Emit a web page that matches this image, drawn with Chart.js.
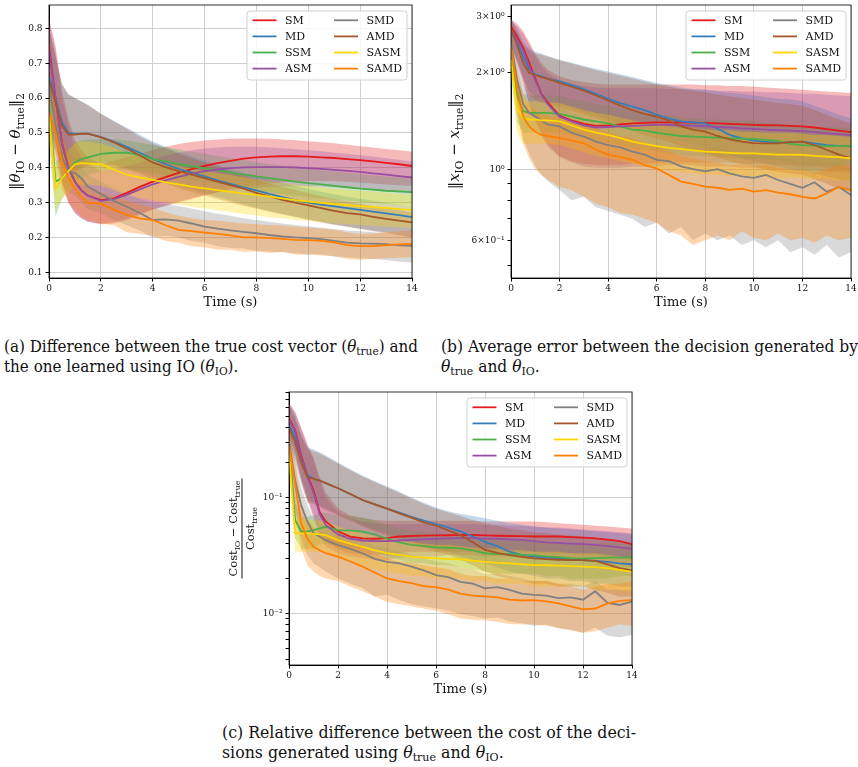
<!DOCTYPE html>
<html>
<head>
<meta charset="utf-8">
<script src="https://cdn.jsdelivr.net/npm/chart.js@4.4.1/dist/chart.umd.min.js"></script>
<style>
  body { margin: 0; background: #fff; width: 858px; height: 767px; position: relative; overflow: hidden; }
  canvas { position: absolute; }
  .cap { position: absolute; font-family: 'DejaVu Serif', serif; font-size: 16.5px; line-height: 20px;
         white-space: nowrap; transform-origin: 0 0; color: #111; }
  .cap div { width: max-content; }
  .cap sub { font-size: 70%; vertical-align: -0.3em; line-height: 0; }
</style>
</head>
<body>
<canvas id="chartA" width="425" height="315" style="left:0;top:0"></canvas>
<canvas id="chartB" width="428" height="315" style="left:430px;top:0"></canvas>
<canvas id="chartC" width="440" height="320" style="left:200px;top:380px"></canvas>

<div class="cap" style="left:4px;top:337px" data-w="414">
  <div><span>(a) Difference between the true cost vector (<i>θ</i><sub>true</sub>) and</span></div>
  <div>the one learned using IO (<i>θ</i><sub>IO</sub>).</div>
</div>
<div class="cap" style="left:441px;top:337px" data-w="417">
  <div><span>(b) Average error between the decision generated by</span></div>
  <div><i>θ</i><sub>true</sub> and <i>θ</i><sub>IO</sub>.</div>
</div>
<div class="cap" style="left:222px;top:723px" data-w="414">
  <div><span>(c) Relative difference between the cost of the deci-</span></div>
  <div>sions generated using <i>θ</i><sub>true</sub> and <i>θ</i><sub>IO</sub>.</div>
</div>

<script>
// time axis (s), shared by every series
const TIME = [0, 0.25, 0.5, 0.75, 1, 1.25, 1.5,
  2, 2.5, 3, 3.5, 4, 4.5, 5, 5.5, 6, 6.5, 7, 7.5, 8, 8.5, 9, 9.5, 10, 10.5, 11, 11.5, 12, 12.5, 13, 13.5, 14];
const SERIES = ['SM', 'MD', 'SSM', 'ASM', 'SMD', 'AMD', 'SASM', 'SAMD'];
const X_TICKS = [0, 2, 4, 6, 8, 10, 12, 14];

// (a) ||theta_IO - theta_true||_2 : mean, lower, upper
const aSM   = [0.75, 0.6, 0.47, 0.4, 0.36, 0.335, 0.32, 0.307, 0.312, 0.328, 0.345, 0.36, 0.373, 0.385, 0.396, 0.405, 0.413, 0.42, 0.426, 0.43, 0.432, 0.433, 0.433, 0.432, 0.43, 0.428, 0.425, 0.422, 0.418, 0.414, 0.41, 0.405];
const aSMHi = [0.83, 0.75, 0.62, 0.54, 0.48, 0.45, 0.43, 0.41, 0.42, 0.43, 0.44, 0.45, 0.46, 0.468, 0.474, 0.478, 0.481, 0.483, 0.484, 0.484, 0.483, 0.481, 0.479, 0.476, 0.473, 0.47, 0.466, 0.462, 0.458, 0.454, 0.45, 0.446];
const aSMLo = [0.66, 0.5, 0.36, 0.3, 0.27, 0.255, 0.245, 0.238, 0.24, 0.25, 0.265, 0.28, 0.29, 0.3, 0.31, 0.32, 0.33, 0.34, 0.345, 0.35, 0.355, 0.358, 0.36, 0.362, 0.362, 0.362, 0.36, 0.358, 0.355, 0.352, 0.35, 0.348];
const aASM   = [0.74, 0.6, 0.47, 0.4, 0.36, 0.335, 0.32, 0.305, 0.31, 0.322, 0.338, 0.352, 0.364, 0.374, 0.383, 0.39, 0.395, 0.399, 0.401, 0.402, 0.402, 0.402, 0.401, 0.399, 0.397, 0.394, 0.391, 0.388, 0.384, 0.38, 0.376, 0.372];
const aASMHi = [0.82, 0.74, 0.6, 0.52, 0.46, 0.43, 0.41, 0.39, 0.395, 0.405, 0.415, 0.425, 0.435, 0.443, 0.45, 0.455, 0.458, 0.46, 0.46, 0.46, 0.458, 0.456, 0.453, 0.45, 0.447, 0.443, 0.44, 0.436, 0.432, 0.427, 0.423, 0.418];
const aASMLo = [0.66, 0.48, 0.36, 0.3, 0.27, 0.255, 0.245, 0.24, 0.245, 0.255, 0.268, 0.28, 0.292, 0.303, 0.313, 0.322, 0.33, 0.336, 0.34, 0.343, 0.345, 0.346, 0.347, 0.347, 0.346, 0.344, 0.342, 0.339, 0.336, 0.332, 0.329, 0.326];
const aMD   = [0.66, 0.6, 0.53, 0.5, 0.497, 0.498, 0.498, 0.488, 0.475, 0.46, 0.443, 0.425, 0.41, 0.397, 0.386, 0.375, 0.364, 0.354, 0.344, 0.335, 0.325, 0.316, 0.307, 0.3, 0.294, 0.289, 0.284, 0.279, 0.274, 0.269, 0.264, 0.258];
const aMDHi = [0.8, 0.72, 0.64, 0.61, 0.6, 0.59, 0.58, 0.555, 0.535, 0.515, 0.495, 0.475, 0.46, 0.445, 0.432, 0.42, 0.408, 0.396, 0.385, 0.375, 0.365, 0.356, 0.347, 0.339, 0.331, 0.324, 0.317, 0.311, 0.305, 0.299, 0.294, 0.289];
const aMDLo = [0.52, 0.47, 0.42, 0.4, 0.4, 0.405, 0.41, 0.415, 0.41, 0.4, 0.388, 0.375, 0.362, 0.35, 0.338, 0.327, 0.316, 0.305, 0.295, 0.285, 0.276, 0.268, 0.26, 0.252, 0.245, 0.238, 0.232, 0.226, 0.22, 0.215, 0.21, 0.205];
const aAMD   = [0.65, 0.59, 0.52, 0.495, 0.495, 0.497, 0.498, 0.488, 0.473, 0.455, 0.435, 0.415, 0.402, 0.39, 0.38, 0.37, 0.36, 0.35, 0.34, 0.328, 0.318, 0.308, 0.3, 0.292, 0.284, 0.276, 0.27, 0.266, 0.259, 0.253, 0.248, 0.243];
const aAMDHi = [0.8, 0.72, 0.64, 0.61, 0.6, 0.59, 0.58, 0.555, 0.533, 0.512, 0.49, 0.47, 0.455, 0.44, 0.427, 0.415, 0.402, 0.39, 0.378, 0.366, 0.355, 0.345, 0.336, 0.327, 0.318, 0.31, 0.303, 0.297, 0.29, 0.284, 0.278, 0.272];
const aAMDLo = [0.5, 0.45, 0.4, 0.39, 0.39, 0.398, 0.405, 0.41, 0.405, 0.395, 0.382, 0.368, 0.355, 0.342, 0.33, 0.32, 0.31, 0.3, 0.29, 0.282, 0.274, 0.266, 0.258, 0.25, 0.243, 0.236, 0.23, 0.224, 0.218, 0.212, 0.206, 0.2];
const aSSM   = [0.58, 0.36, 0.37, 0.39, 0.415, 0.425, 0.43, 0.44, 0.443, 0.443, 0.437, 0.425, 0.418, 0.41, 0.405, 0.398, 0.393, 0.387, 0.381, 0.375, 0.37, 0.365, 0.36, 0.356, 0.352, 0.348, 0.344, 0.34, 0.337, 0.334, 0.332, 0.33];
const aSSMHi = [0.66, 0.42, 0.43, 0.45, 0.47, 0.478, 0.48, 0.482, 0.482, 0.478, 0.472, 0.465, 0.458, 0.452, 0.446, 0.44, 0.434, 0.428, 0.422, 0.416, 0.411, 0.406, 0.401, 0.397, 0.393, 0.389, 0.385, 0.381, 0.378, 0.375, 0.372, 0.369];
const aSSMLo = [0.48, 0.26, 0.31, 0.34, 0.36, 0.372, 0.38, 0.39, 0.395, 0.395, 0.392, 0.386, 0.38, 0.372, 0.365, 0.36, 0.355, 0.348, 0.342, 0.336, 0.33, 0.325, 0.32, 0.316, 0.312, 0.308, 0.305, 0.302, 0.299, 0.296, 0.293, 0.29];
const aSASM   = [0.555, 0.34, 0.37, 0.39, 0.41, 0.413, 0.412, 0.41, 0.395, 0.38, 0.372, 0.365, 0.358, 0.352, 0.346, 0.341, 0.336, 0.331, 0.326, 0.322, 0.317, 0.312, 0.307, 0.303, 0.299, 0.296, 0.293, 0.29, 0.287, 0.284, 0.281, 0.279];
const aSASMHi = [0.62, 0.4, 0.43, 0.45, 0.47, 0.475, 0.475, 0.47, 0.458, 0.443, 0.432, 0.422, 0.412, 0.404, 0.397, 0.391, 0.385, 0.379, 0.373, 0.367, 0.362, 0.357, 0.352, 0.348, 0.344, 0.34, 0.337, 0.334, 0.331, 0.328, 0.325, 0.322];
const aSASMLo = [0.48, 0.28, 0.31, 0.33, 0.35, 0.352, 0.352, 0.348, 0.335, 0.322, 0.313, 0.306, 0.3, 0.294, 0.288, 0.283, 0.278, 0.273, 0.268, 0.263, 0.258, 0.254, 0.25, 0.247, 0.244, 0.241, 0.238, 0.235, 0.233, 0.231, 0.229, 0.227];
const aSMD   = [0.64, 0.52, 0.43, 0.39, 0.385, 0.37, 0.345, 0.325, 0.305, 0.288, 0.27, 0.25, 0.252, 0.248, 0.24, 0.231, 0.225, 0.22, 0.216, 0.212, 0.207, 0.203, 0.2, 0.198, 0.195, 0.19, 0.185, 0.183, 0.182, 0.181, 0.177, 0.176];
const aSMDHi = [0.7, 0.6, 0.5, 0.45, 0.42, 0.4, 0.38, 0.36, 0.34, 0.325, 0.31, 0.3, 0.295, 0.29, 0.283, 0.275, 0.268, 0.262, 0.255, 0.25, 0.245, 0.24, 0.236, 0.232, 0.228, 0.224, 0.22, 0.218, 0.215, 0.212, 0.21, 0.207];
const aSMDLo = [0.55, 0.44, 0.36, 0.33, 0.32, 0.3, 0.28, 0.27, 0.25, 0.235, 0.22, 0.2, 0.205, 0.2, 0.19, 0.185, 0.175, 0.17, 0.168, 0.162, 0.16, 0.158, 0.155, 0.15, 0.152, 0.145, 0.143, 0.14, 0.138, 0.135, 0.13, 0.128];
const aSAMD   = [0.56, 0.5, 0.42, 0.37, 0.34, 0.315, 0.3, 0.296, 0.28, 0.265, 0.255, 0.25, 0.235, 0.222, 0.218, 0.214, 0.21, 0.206, 0.2, 0.2, 0.198, 0.196, 0.193, 0.192, 0.19, 0.186, 0.178, 0.175, 0.175, 0.178, 0.18, 0.181];
const aSAMDHi = [0.64, 0.58, 0.5, 0.44, 0.4, 0.37, 0.35, 0.33, 0.318, 0.305, 0.295, 0.285, 0.272, 0.262, 0.255, 0.25, 0.248, 0.244, 0.24, 0.238, 0.236, 0.234, 0.231, 0.228, 0.226, 0.222, 0.215, 0.21, 0.212, 0.215, 0.218, 0.22];
const aSAMDLo = [0.48, 0.42, 0.34, 0.3, 0.28, 0.26, 0.25, 0.24, 0.235, 0.215, 0.21, 0.205, 0.19, 0.185, 0.175, 0.172, 0.165, 0.165, 0.158, 0.16, 0.155, 0.158, 0.15, 0.152, 0.148, 0.146, 0.138, 0.135, 0.138, 0.14, 0.142, 0.143];
const A_Y_TICKS = [0.1, 0.2, 0.3, 0.4, 0.5, 0.6, 0.7, 0.8];

// (b) ||x_IO - x_true||_2 (log axis)
const bSM   = [2.8, 2.6, 2.4, 2.15, 1.92, 1.72, 1.62, 1.47, 1.42, 1.385, 1.365, 1.37, 1.38, 1.39, 1.395, 1.4, 1.4, 1.4, 1.398, 1.395, 1.39, 1.385, 1.38, 1.375, 1.372, 1.37, 1.365, 1.36, 1.35, 1.335, 1.32, 1.305];
const bSMHi = [2.95, 2.85, 2.7, 2.5, 2.3, 2.15, 2.05, 1.95, 1.9, 1.87, 1.85, 1.84, 1.84, 1.84, 1.84, 1.84, 1.84, 1.84, 1.84, 1.83, 1.83, 1.82, 1.82, 1.81, 1.8, 1.79, 1.78, 1.77, 1.76, 1.75, 1.74, 1.73];
const bSMLo = [2.5, 2.2, 1.9, 1.6, 1.45, 1.3, 1.2, 1.1, 1.06, 1.04, 1.03, 1.03, 1.03, 1.04, 1.04, 1.05, 1.05, 1.05, 1.05, 1.05, 1.05, 1.05, 1.04, 1.04, 1.04, 1.03, 1.03, 1.02, 1.02, 1.01, 1.0, 1.0];
const bASM   = [2.75, 2.55, 2.35, 2.1, 1.9, 1.72, 1.6, 1.46, 1.41, 1.37, 1.35, 1.355, 1.36, 1.365, 1.37, 1.375, 1.375, 1.372, 1.368, 1.362, 1.355, 1.35, 1.342, 1.336, 1.33, 1.325, 1.32, 1.315, 1.305, 1.295, 1.287, 1.278];
const bASMHi = [2.9, 2.8, 2.65, 2.45, 2.25, 2.1, 2.0, 1.9, 1.85, 1.82, 1.8, 1.79, 1.79, 1.79, 1.79, 1.79, 1.78, 1.78, 1.77, 1.77, 1.76, 1.76, 1.75, 1.75, 1.74, 1.74, 1.73, 1.72, 1.72, 1.71, 1.7, 1.69];
const bASMLo = [2.45, 2.15, 1.85, 1.58, 1.42, 1.28, 1.18, 1.09, 1.05, 1.02, 1.01, 1.01, 1.01, 1.02, 1.02, 1.02, 1.03, 1.03, 1.03, 1.02, 1.02, 1.02, 1.01, 1.01, 1.0, 1.0, 1.0, 0.99, 0.99, 0.98, 0.98, 0.97];
const bMD   = [2.7, 2.5, 2.25, 2.05, 1.98, 1.95, 1.92, 1.88, 1.83, 1.78, 1.72, 1.66, 1.61, 1.57, 1.53, 1.48, 1.44, 1.41, 1.4, 1.39, 1.34, 1.28, 1.25, 1.228, 1.218, 1.21, 1.215, 1.22, 1.205, 1.19, 1.183, 1.178];
const bMDHi = [2.95, 2.75, 2.5, 2.38, 2.33, 2.3, 2.26, 2.2, 2.15, 2.1, 2.06, 2.02, 1.98, 1.94, 1.9, 1.86, 1.83, 1.8, 1.78, 1.77, 1.75, 1.73, 1.72, 1.7, 1.68, 1.66, 1.65, 1.63, 1.58, 1.53, 1.48, 1.44];
const bMDLo = [2.45, 2.2, 1.95, 1.75, 1.68, 1.65, 1.62, 1.58, 1.55, 1.51, 1.47, 1.43, 1.39, 1.35, 1.31, 1.28, 1.25, 1.22, 1.19, 1.17, 1.14, 1.11, 1.08, 1.06, 1.04, 1.02, 1.0, 0.99, 0.97, 0.95, 0.93, 0.92];
const bAMD   = [2.75, 2.45, 2.15, 2.0, 1.97, 1.94, 1.92, 1.86, 1.81, 1.76, 1.7, 1.64, 1.58, 1.53, 1.49, 1.46, 1.42, 1.36, 1.33, 1.31, 1.27, 1.24, 1.22, 1.207, 1.205, 1.205, 1.215, 1.22, 1.19, 1.15, 1.11, 1.08];
const bAMDHi = [2.95, 2.7, 2.45, 2.35, 2.3, 2.28, 2.25, 2.19, 2.14, 2.09, 2.04, 2.0, 1.96, 1.92, 1.88, 1.84, 1.81, 1.78, 1.76, 1.74, 1.71, 1.69, 1.67, 1.65, 1.63, 1.61, 1.6, 1.58, 1.53, 1.48, 1.43, 1.39];
const bAMDLo = [2.45, 2.15, 1.9, 1.7, 1.65, 1.62, 1.6, 1.56, 1.52, 1.48, 1.44, 1.4, 1.36, 1.32, 1.28, 1.25, 1.22, 1.18, 1.15, 1.12, 1.09, 1.06, 1.04, 1.02, 1.0, 0.98, 0.97, 0.96, 0.93, 0.9, 0.87, 0.85];
const bSSM   = [2.3, 1.7, 1.52, 1.5, 1.5, 1.5, 1.5, 1.49, 1.46, 1.43, 1.41, 1.39, 1.36, 1.33, 1.32, 1.3, 1.285, 1.27, 1.265, 1.26, 1.255, 1.25, 1.245, 1.243, 1.235, 1.225, 1.2, 1.19, 1.185, 1.18, 1.18, 1.18];
const bSSMHi = [2.5, 1.95, 1.72, 1.7, 1.7, 1.7, 1.7, 1.69, 1.66, 1.63, 1.6, 1.58, 1.55, 1.52, 1.5, 1.48, 1.47, 1.45, 1.44, 1.43, 1.43, 1.42, 1.42, 1.41, 1.4, 1.39, 1.37, 1.36, 1.35, 1.35, 1.35, 1.34];
const bSSMLo = [2.0, 1.4, 1.3, 1.3, 1.31, 1.31, 1.31, 1.3, 1.28, 1.25, 1.23, 1.21, 1.19, 1.16, 1.15, 1.14, 1.12, 1.11, 1.1, 1.1, 1.09, 1.09, 1.08, 1.08, 1.07, 1.07, 1.05, 1.04, 1.03, 1.03, 1.03, 1.03];
const bSASM   = [2.2, 1.55, 1.44, 1.43, 1.43, 1.42, 1.42, 1.41, 1.37, 1.33, 1.3, 1.28, 1.25, 1.22, 1.2, 1.18, 1.165, 1.155, 1.145, 1.135, 1.13, 1.125, 1.12, 1.12, 1.115, 1.11, 1.11, 1.108, 1.1, 1.095, 1.09, 1.08];
const bSASMHi = [2.4, 1.8, 1.65, 1.63, 1.63, 1.62, 1.62, 1.61, 1.57, 1.53, 1.5, 1.48, 1.45, 1.42, 1.4, 1.38, 1.36, 1.35, 1.34, 1.33, 1.32, 1.32, 1.31, 1.31, 1.3, 1.3, 1.3, 1.29, 1.28, 1.28, 1.27, 1.26];
const bSASMLo = [1.95, 1.3, 1.2, 1.2, 1.2, 1.2, 1.2, 1.19, 1.16, 1.13, 1.1, 1.08, 1.06, 1.04, 1.02, 1.0, 0.99, 0.98, 0.97, 0.96, 0.96, 0.95, 0.95, 0.95, 0.94, 0.94, 0.94, 0.94, 0.93, 0.93, 0.92, 0.92];
const bSMD   = [2.5, 1.9, 1.6, 1.5, 1.46, 1.42, 1.38, 1.36, 1.3, 1.265, 1.22, 1.19, 1.17, 1.135, 1.11, 1.07, 1.06, 1.02, 1.0, 0.985, 1.0, 0.97, 0.95, 0.94, 0.96, 0.925, 0.9, 0.875, 0.91, 0.85, 0.88, 0.83];
const bSMDHi = [2.75, 2.2, 1.85, 1.72, 1.67, 1.63, 1.6, 1.57, 1.5, 1.46, 1.42, 1.38, 1.36, 1.32, 1.3, 1.26, 1.24, 1.2, 1.18, 1.16, 1.17, 1.14, 1.12, 1.11, 1.12, 1.09, 1.07, 1.05, 1.07, 1.03, 1.05, 1.0];
const bSMDLo = [2.2, 1.55, 1.25, 1.12, 1.02, 0.96, 0.92, 0.86, 0.8, 0.82, 0.76, 0.74, 0.72, 0.7, 0.66, 0.68, 0.63, 0.66, 0.6, 0.63, 0.6, 0.62, 0.58, 0.6, 0.57, 0.6, 0.55, 0.57, 0.54, 0.58, 0.53, 0.55];
const bSAMD   = [2.4, 1.8, 1.46, 1.36, 1.31, 1.28, 1.27, 1.25, 1.23, 1.205, 1.15, 1.11, 1.09, 1.07, 1.03, 1.005, 0.96, 0.915, 0.9, 0.882, 0.875, 0.862, 0.87, 0.851, 0.86, 0.845, 0.835, 0.82, 0.81, 0.84, 0.88, 0.86];
const bSAMDHi = [2.7, 2.1, 1.72, 1.6, 1.53, 1.49, 1.47, 1.45, 1.42, 1.39, 1.34, 1.3, 1.27, 1.25, 1.21, 1.18, 1.14, 1.1, 1.08, 1.06, 1.05, 1.03, 1.04, 1.02, 1.03, 1.01, 1.0, 0.99, 0.98, 1.0, 1.03, 1.02];
const bSAMDLo = [2.1, 1.5, 1.2, 1.08, 1.0, 0.96, 0.93, 0.88, 0.86, 0.82, 0.78, 0.76, 0.73, 0.72, 0.7, 0.68, 0.64, 0.62, 0.58, 0.6, 0.62, 0.6, 0.64, 0.61, 0.6, 0.63, 0.6, 0.61, 0.59, 0.62, 0.6, 0.61];
const B_Y_TICKS = [0.5, 0.6, 0.7, 0.8, 0.9, 1, 2, 3];
const B_Y_LABELS = { 0.6: '6×10⁻¹', 1: '10⁰', 2: '2×10⁰', 3: '3×10⁰' };
const B_Y_GRID = [1];

// (c) relative cost difference (log axis)
const cSM   = [0.48, 0.38, 0.23, 0.155, 0.115, 0.075, 0.062, 0.051, 0.046, 0.0443, 0.044, 0.0445, 0.046, 0.0465, 0.0468, 0.047, 0.0472, 0.0475, 0.0474, 0.047, 0.0467, 0.0465, 0.0463, 0.046, 0.046, 0.046, 0.0455, 0.045, 0.0443, 0.0432, 0.042, 0.0395];
const cSMHi = [0.65, 0.55, 0.4, 0.29, 0.22, 0.15, 0.11, 0.08, 0.07, 0.066, 0.064, 0.063, 0.063, 0.063, 0.063, 0.063, 0.063, 0.063, 0.063, 0.062, 0.062, 0.062, 0.062, 0.062, 0.061, 0.06, 0.059, 0.058, 0.057, 0.056, 0.055, 0.054];
const cSMLo = [0.35, 0.25, 0.15, 0.1, 0.07, 0.05, 0.042, 0.036, 0.033, 0.032, 0.032, 0.032, 0.033, 0.034, 0.034, 0.034, 0.034, 0.034, 0.034, 0.034, 0.034, 0.034, 0.034, 0.034, 0.033, 0.033, 0.033, 0.032, 0.032, 0.031, 0.03, 0.029];
const cASM   = [0.47, 0.37, 0.22, 0.15, 0.11, 0.072, 0.058, 0.048, 0.044, 0.0425, 0.042, 0.042, 0.0425, 0.043, 0.0435, 0.044, 0.0443, 0.0445, 0.0445, 0.0442, 0.044, 0.0435, 0.043, 0.042, 0.041, 0.0405, 0.04, 0.0395, 0.039, 0.038, 0.037, 0.036];
const cASMHi = [0.64, 0.54, 0.39, 0.28, 0.21, 0.14, 0.1, 0.075, 0.066, 0.062, 0.06, 0.059, 0.059, 0.059, 0.059, 0.059, 0.059, 0.059, 0.059, 0.058, 0.058, 0.057, 0.057, 0.056, 0.055, 0.055, 0.054, 0.053, 0.052, 0.051, 0.05, 0.049];
const cASMLo = [0.34, 0.24, 0.14, 0.095, 0.066, 0.046, 0.038, 0.033, 0.031, 0.03, 0.029, 0.029, 0.03, 0.031, 0.031, 0.031, 0.032, 0.032, 0.032, 0.031, 0.031, 0.031, 0.031, 0.03, 0.03, 0.029, 0.029, 0.028, 0.028, 0.027, 0.026, 0.025];
const cMD   = [0.42, 0.33, 0.22, 0.155, 0.145, 0.14, 0.133, 0.12, 0.107, 0.095, 0.087, 0.08, 0.074, 0.068, 0.063, 0.059, 0.055, 0.051, 0.046, 0.0414, 0.038, 0.034, 0.032, 0.0308, 0.0302, 0.0298, 0.0293, 0.0288, 0.0283, 0.0278, 0.027, 0.0265];
const cMDHi = [0.65, 0.5, 0.35, 0.27, 0.26, 0.245, 0.23, 0.2, 0.175, 0.155, 0.138, 0.125, 0.112, 0.1, 0.09, 0.082, 0.076, 0.072, 0.069, 0.066, 0.063, 0.06, 0.058, 0.056, 0.055, 0.054, 0.053, 0.052, 0.051, 0.05, 0.049, 0.048];
const cMDLo = [0.3, 0.22, 0.14, 0.095, 0.09, 0.085, 0.08, 0.072, 0.065, 0.058, 0.053, 0.049, 0.045, 0.042, 0.039, 0.036, 0.034, 0.031, 0.029, 0.027, 0.025, 0.023, 0.022, 0.021, 0.02, 0.02, 0.019, 0.019, 0.018, 0.018, 0.017, 0.017];
const cAMD   = [0.4, 0.3, 0.2, 0.15, 0.145, 0.14, 0.133, 0.12, 0.107, 0.095, 0.087, 0.08, 0.073, 0.067, 0.061, 0.057, 0.052, 0.0473, 0.041, 0.0352, 0.0332, 0.0318, 0.0307, 0.0298, 0.0293, 0.029, 0.0288, 0.0288, 0.0283, 0.0265, 0.0245, 0.0235];
const cAMDHi = [0.63, 0.48, 0.34, 0.26, 0.25, 0.24, 0.225, 0.196, 0.172, 0.152, 0.136, 0.122, 0.11, 0.098, 0.088, 0.08, 0.074, 0.069, 0.064, 0.06, 0.057, 0.054, 0.052, 0.05, 0.049, 0.048, 0.047, 0.046, 0.045, 0.043, 0.041, 0.04];
const cAMDLo = [0.28, 0.2, 0.13, 0.09, 0.088, 0.083, 0.078, 0.07, 0.063, 0.056, 0.051, 0.047, 0.043, 0.04, 0.037, 0.034, 0.032, 0.029, 0.026, 0.023, 0.021, 0.02, 0.019, 0.018, 0.018, 0.017, 0.017, 0.017, 0.016, 0.015, 0.014, 0.014];
const cSSM   = [0.3, 0.064, 0.0506, 0.051, 0.0523, 0.054, 0.0558, 0.0523, 0.052, 0.0506, 0.048, 0.044, 0.041, 0.039, 0.038, 0.037, 0.0368, 0.0364, 0.035, 0.033, 0.0325, 0.0325, 0.032, 0.0318, 0.031, 0.0305, 0.03, 0.0298, 0.03, 0.0302, 0.0303, 0.0304];
const cSSMHi = [0.4, 0.09, 0.068, 0.068, 0.07, 0.072, 0.074, 0.07, 0.069, 0.067, 0.063, 0.058, 0.054, 0.051, 0.05, 0.049, 0.048, 0.047, 0.046, 0.044, 0.043, 0.043, 0.042, 0.042, 0.041, 0.04, 0.04, 0.039, 0.04, 0.04, 0.04, 0.04];
const cSSMLo = [0.2, 0.045, 0.036, 0.036, 0.037, 0.039, 0.04, 0.037, 0.037, 0.036, 0.034, 0.031, 0.029, 0.027, 0.027, 0.026, 0.026, 0.025, 0.024, 0.023, 0.022, 0.022, 0.022, 0.022, 0.021, 0.021, 0.02, 0.02, 0.02, 0.02, 0.021, 0.021];
const cSASM   = [0.25, 0.049, 0.049, 0.049, 0.0485, 0.048, 0.0473, 0.0428, 0.04, 0.0375, 0.035, 0.033, 0.032, 0.0308, 0.0302, 0.0298, 0.0295, 0.0292, 0.0285, 0.0278, 0.0273, 0.027, 0.0265, 0.0261, 0.026, 0.0258, 0.0255, 0.0253, 0.025, 0.0245, 0.0237, 0.0228];
const cSASMHi = [0.35, 0.065, 0.065, 0.065, 0.064, 0.063, 0.062, 0.056, 0.052, 0.049, 0.046, 0.044, 0.042, 0.041, 0.04, 0.039, 0.039, 0.038, 0.037, 0.036, 0.036, 0.035, 0.035, 0.034, 0.034, 0.034, 0.033, 0.033, 0.033, 0.032, 0.031, 0.03];
const cSASMLo = [0.16, 0.034, 0.034, 0.034, 0.034, 0.034, 0.033, 0.03, 0.028, 0.026, 0.024, 0.023, 0.022, 0.021, 0.021, 0.02, 0.02, 0.02, 0.019, 0.019, 0.018, 0.018, 0.018, 0.017, 0.017, 0.017, 0.017, 0.017, 0.016, 0.016, 0.016, 0.015];
const cSMD   = [0.3, 0.14, 0.085, 0.062, 0.049, 0.046, 0.0428, 0.0388, 0.036, 0.033, 0.0295, 0.0278, 0.027, 0.0253, 0.0235, 0.0214, 0.0205, 0.0187, 0.018, 0.0164, 0.0168, 0.0159, 0.0148, 0.0144, 0.0142, 0.0135, 0.0137, 0.0131, 0.0155, 0.0123, 0.0118, 0.0126];
const cSMDHi = [0.42, 0.2, 0.12, 0.085, 0.066, 0.06, 0.056, 0.05, 0.046, 0.042, 0.038, 0.036, 0.034, 0.032, 0.03, 0.028, 0.027, 0.025, 0.024, 0.022, 0.022, 0.021, 0.02, 0.019, 0.019, 0.018, 0.018, 0.017, 0.019, 0.016, 0.016, 0.016];
const cSMDLo = [0.2, 0.08, 0.045, 0.032, 0.027, 0.025, 0.023, 0.02, 0.018, 0.0165, 0.014, 0.0145, 0.013, 0.012, 0.0115, 0.011, 0.0105, 0.0098, 0.0095, 0.009, 0.0092, 0.0085, 0.0082, 0.0078, 0.008, 0.0074, 0.0072, 0.0068, 0.0075, 0.0064, 0.0062, 0.0065];
const cSAMD   = [0.28, 0.13, 0.06, 0.044, 0.0375, 0.035, 0.033, 0.0308, 0.028, 0.0253, 0.0225, 0.02, 0.019, 0.0182, 0.0172, 0.0168, 0.016, 0.0148, 0.0142, 0.014, 0.0137, 0.0131, 0.0129, 0.013, 0.0127, 0.0122, 0.0115, 0.0108, 0.011, 0.0122, 0.0128, 0.013];
const cSAMDHi = [0.4, 0.2, 0.09, 0.065, 0.055, 0.051, 0.048, 0.045, 0.041, 0.037, 0.033, 0.03, 0.028, 0.027, 0.026, 0.025, 0.024, 0.022, 0.021, 0.021, 0.02, 0.02, 0.019, 0.019, 0.019, 0.018, 0.017, 0.016, 0.017, 0.018, 0.018, 0.019];
const cSAMDLo = [0.18, 0.08, 0.036, 0.026, 0.023, 0.021, 0.02, 0.019, 0.017, 0.0155, 0.014, 0.0125, 0.012, 0.0115, 0.011, 0.0105, 0.0098, 0.009, 0.0088, 0.0087, 0.0084, 0.0081, 0.008, 0.008, 0.0078, 0.0075, 0.0071, 0.0068, 0.007, 0.0075, 0.008, 0.0078];
const C_Y_TICKS = [0.004, 0.005, 0.006, 0.007, 0.008, 0.009, 0.01, 0.02, 0.03, 0.04, 0.05, 0.06, 0.07, 0.08, 0.09, 0.1, 0.2, 0.3, 0.4, 0.5, 0.6, 0.7, 0.8];
const C_Y_LABELS = { 0.01: '10⁻²', 0.1: '10⁻¹' };
const C_Y_GRID = [0.01, 0.1];

const COLORS = { SM: '#e41a1c', MD: '#377eb8', SSM: '#4daf4a', ASM: '#984ea3',
                 SMD: '#808080', AMD: '#a65628', SASM: '#ffd700', SAMD: '#ff7f00' };
const FONT = "'DejaVu Serif', serif";

const panelA = { SM: [aSM, aSMLo, aSMHi], MD: [aMD, aMDLo, aMDHi], SSM: [aSSM, aSSMLo, aSSMHi], ASM: [aASM, aASMLo, aASMHi],
                 SMD: [aSMD, aSMDLo, aSMDHi], AMD: [aAMD, aAMDLo, aAMDHi], SASM: [aSASM, aSASMLo, aSASMHi], SAMD: [aSAMD, aSAMDLo, aSAMDHi] };
const panelB = { SM: [bSM, bSMLo, bSMHi], MD: [bMD, bMDLo, bMDHi], SSM: [bSSM, bSSMLo, bSSMHi], ASM: [bASM, bASMLo, bASMHi],
                 SMD: [bSMD, bSMDLo, bSMDHi], AMD: [bAMD, bAMDLo, bAMDHi], SASM: [bSASM, bSASMLo, bSASMHi], SAMD: [bSAMD, bSAMDLo, bSAMDHi] };
const panelC = { SM: [cSM, cSMLo, cSMHi], MD: [cMD, cMDLo, cMDHi], SSM: [cSSM, cSSMLo, cSSMHi], ASM: [cASM, cASMLo, cASMHi],
                 SMD: [cSMD, cSMDLo, cSMDHi], AMD: [cAMD, cAMDLo, cAMDHi], SASM: [cSASM, cSASMLo, cSASMHi], SAMD: [cSAMD, cSAMDLo, cSAMDHi] };

function pts(arr) {
  return TIME.map((t, i) => ({ x: t, y: arr[i] }));
}

function withAlpha(hex, a) {
  const n = parseInt(hex.slice(1), 16);
  return `rgba(${n >> 16},${(n >> 8) & 255},${n & 255},${a})`;
}

function buildDatasets(panel) {
  const ds = [];
  // mean lines first in the array (legend reads these); later series drawn on top
  SERIES.forEach((name, i) => {
    ds.push({ label: name, isMean: true, data: pts(panel[name][0]), borderColor: COLORS[name],
              borderWidth: 1.8, pointRadius: 0, fill: false, order: 7 - i });
  });
  // shaded bands under everything
  SERIES.forEach((name, i) => {
    ds.push({ label: name + ' hi', data: pts(panel[name][2]), borderColor: 'rgba(0,0,0,0)', borderWidth: 0,
              pointRadius: 0, fill: false, order: 100 + 7 - i });
    ds.push({ label: name + ' lo', data: pts(panel[name][1]), borderColor: 'rgba(0,0,0,0)', borderWidth: 0,
              pointRadius: 0, fill: '-1', backgroundColor: withAlpha(COLORS[name], 0.3), order: 100 + 7 - i });
  });
  return ds;
}

// rotated text with subscripts, runs = [{t, s, it, dy}]
function drawRuns(ctx, runs, cx, v) {
  let total = 0;
  runs.forEach(r => {
    ctx.font = `${r.it ? 'italic ' : ''}${r.s}px ${FONT}`;
    r.w = ctx.measureText(r.t).width;
    total += r.w;
  });
  let u = cx - total / 2;
  runs.forEach(r => {
    ctx.font = `${r.it ? 'italic ' : ''}${r.s}px ${FONT}`;
    ctx.fillText(r.t, u, v + (r.dy || 0));
    u += r.w;
  });
  return total;
}

function normTitle(sym) {
  return [
    { t: '‖', s: 15 }, { t: sym, s: 15, it: true }, { t: 'IO', s: 10.5, dy: 3.5 },
    { t: ' − ', s: 15 }, { t: sym, s: 15, it: true }, { t: 'true', s: 10.5, dy: 3.5 },
    { t: '‖', s: 15 }, { t: '2', s: 10.5, dy: 3.5 }
  ];
}

function decorPlugin(yTitle) {
  return {
    id: 'decor',
    afterDraw(chart) {
      const { ctx, chartArea: ca } = chart;
      ctx.save();
      // frame
      ctx.strokeStyle = '#000';
      ctx.lineWidth = 0.8;
      ctx.strokeRect(ca.left, ca.top, ca.right - ca.left, ca.bottom - ca.top);
      ctx.fillStyle = '#111';
      // x title
      ctx.font = `13px ${FONT}`;
      ctx.textAlign = 'center';
      ctx.textBaseline = 'middle';
      ctx.fillText('Time (s)', (ca.left + ca.right) / 2, ca.bottom + 25);
      // y title
      ctx.textAlign = 'left';
      ctx.textBaseline = 'alphabetic';
      ctx.save();
      ctx.translate(ca.left + yTitle.dx, (ca.top + ca.bottom) / 2);
      ctx.rotate(-Math.PI / 2);
      if (yTitle.frac) {
        drawRuns(ctx, [{ t: 'Cost', s: 11.5 }, { t: 'IO', s: 8, dy: 2.5 }, { t: ' − ', s: 11.5 },
                       { t: 'Cost', s: 11.5 }, { t: 'true', s: 8, dy: 2.5 }], 0, -5);
        ctx.fillRect(-50, -0.5, 100, 1);
        drawRuns(ctx, [{ t: 'Cost', s: 11.5 }, { t: 'true', s: 8, dy: 2.5 }], 0, 12);
      } else {
        drawRuns(ctx, normTitle(yTitle.sym), 0, 5);
      }
      ctx.restore();
      // legend box, two columns
      const w = 160, h = 69;
      const x0 = ca.right - 5 - w, y0 = ca.top + 6;
      ctx.beginPath();
      ctx.roundRect(x0, y0, w, h, 3);
      ctx.fillStyle = 'rgba(255,255,255,0.85)';
      ctx.fill();
      ctx.strokeStyle = '#d0d0d0';
      ctx.lineWidth = 1;
      ctx.stroke();
      ctx.font = `11px ${FONT}`;
      ctx.textBaseline = 'middle';
      const means = chart.data.datasets.filter(d => d.isMean);
      means.forEach((d, i) => {
        const col = Math.floor(i / 4), row = i % 4;
        const lx = x0 + 5.5 + col * 81.5, ly = y0 + 9.3 + row * 16.1;
        ctx.strokeStyle = d.borderColor;
        ctx.lineWidth = 1.8;
        ctx.beginPath();
        ctx.moveTo(lx, ly);
        ctx.lineTo(lx + 24, ly);
        ctx.stroke();
        ctx.fillStyle = '#111';
        ctx.fillText(d.label, lx + 32.5, ly + 0.5);
      });
      ctx.restore();
    }
  };
}

function makeChart(id, panel, yScale, yWidth, xHeight, padding, yTitle) {
  return new Chart(document.getElementById(id), {
    type: 'line',
    data: { datasets: buildDatasets(panel) },
    options: {
      responsive: false,
      animation: false,
      events: [],
      layout: { padding },
      plugins: { legend: { display: false }, tooltip: { enabled: false } },
      scales: {
        x: {
          type: 'linear', min: 0, max: 14,
          afterBuildTicks: ax => { ax.ticks = X_TICKS.map(v => ({ value: v })); },
          ticks: { font: { family: FONT, size: 9 }, color: '#111', padding: 2, maxRotation: 0, autoSkip: false },
          grid: { color: '#cfcfcf', tickColor: '#000', tickLength: 3.5, lineWidth: 1 },
          border: { color: '#000' },
          afterFit: s => { s.height = xHeight; s.paddingLeft = 0; s.paddingRight = 0; }
        },
        y: Object.assign({
          ticks: { font: { family: FONT, size: 9 }, color: '#111', padding: 3, autoSkip: false },
          border: { color: '#000' },
          afterFit: s => { s.width = yWidth; s.paddingTop = 0; s.paddingBottom = 0; }
        }, yScale)
      }
    },
    plugins: [decorPlugin(yTitle)]
  });
}

function logY(min, max, ticks, labels, gridVals) {
  return {
    type: 'logarithmic', min, max,
    afterBuildTicks: ax => { ax.ticks = ticks.map(v => ({ value: v })); },
    ticks: { font: { family: FONT, size: 9 }, color: '#111', padding: 3, autoSkip: false,
             callback: v => labels[v] || '' },
    grid: { color: c => (c.tick && gridVals.includes(c.tick.value)) ? '#cfcfcf' : 'rgba(0,0,0,0)',
            tickColor: '#000', tickLength: 3.5 }
  };
}

makeChart('chartA', panelA, {
  type: 'linear', min: 0.0836, max: 0.867,
  afterBuildTicks: ax => { ax.ticks = A_Y_TICKS.map(v => ({ value: v })); },
  ticks: { font: { family: FONT, size: 9 }, color: '#111', padding: 3, autoSkip: false, callback: v => v.toFixed(1) },
  grid: { color: '#cfcfcf', tickColor: '#000', tickLength: 3.5 }
}, 49, 37, { top: 5, right: 13, left: 0, bottom: 0 }, { sym: 'θ', dx: -34 });

makeChart('chartB', panelB, logY(0.457, 3.26, B_Y_TICKS, B_Y_LABELS, B_Y_GRID),
  81, 37, { top: 5, right: 7, left: 0, bottom: 0 }, { sym: 'x', dx: -57 });

makeChart('chartC', panelC, logY(0.00358, 0.813, C_Y_TICKS, C_Y_LABELS, C_Y_GRID),
  89, 35, { top: 12, right: 8, left: 0, bottom: 0 }, { frac: true, dx: -47 });

// squeeze each caption so its first line spans the column
document.querySelectorAll('.cap').forEach(c => {
  const w = c.querySelector('span').getBoundingClientRect().width;
  c.style.transform = `scaleX(${c.dataset.w / w})`;
});
</script>
</body>
</html>
